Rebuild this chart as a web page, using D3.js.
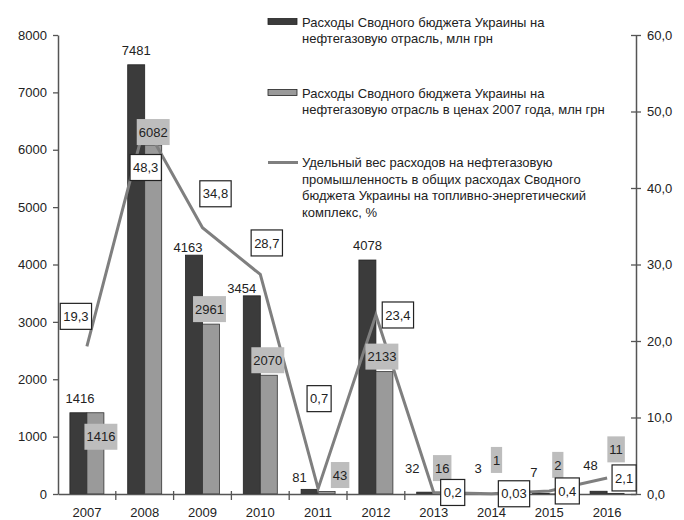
<!DOCTYPE html>
<html lang="ru">
<head>
  <meta charset="UTF-8">
  <script src="https://cdn.jsdelivr.net/npm/d3@7"></script>
  <title>Расходы на нефтегазовую отрасль</title>
  <style>
    body { margin: 0; background: #fff; }
    * { font-family: "Liberation Sans", Arial, sans-serif; }
    svg { display: block; }
  </style>
</head>
<body>
<div id="chart"></div>
<script>
  // Data
  var years = ['2007', '2008', '2009', '2010', '2011', '2012', '2013', '2014', '2015', '2016'];
  var spending = [1416, 7481, 4163, 3454, 81, 4078, 32, 3, 7, 48];       // млн грн
  var spending2007 = [1416, 6082, 2961, 2070, 43, 2133, 16, 1, 2, 11];   // в ценах 2007 года
  var share = [19.3, 48.3, 34.8, 28.7, 0.7, 23.4, 0.2, 0.03, 0.4, 2.1];  // %
  var leftTicks = [0, 1000, 2000, 3000, 4000, 5000, 6000, 7000, 8000];
  var rightTicks = [0, 10, 20, 30, 40, 50, 60];
  var legendLabels = [
    ['Расходы Сводного бюджета Украины на', 'нефтегазовую отрасль, млн грн'],
    ['Расходы Сводного бюджета Украины на', 'нефтегазовую отрасль в ценах 2007 года, млн грн'],
    ['Удельный вес расходов на нефтегазовую', 'промышленность в общих расходах Сводного',
     'бюджета Украины на топливно-энергетический', 'комплекс, %']
  ];

  // label nudges (px), the labels in the original are placed by hand
  var darkDx = [1.5, 0, -6, -10, -10, 0, -13, -5, -7, -8];
  var darkDy = [-10, -10, -3, -3, -7, -10, -19, -21, -17, -21];
  var greyDx = [5.5, 0, -1.5, -1, 13.5, -2.5, 0, -3.5, 0, 0.5];
  var greyDy = [24, -13, -15, -15, -16.5, -15, -25, -34, -29, -44];
  var pctDx = [-11, 1, 13, 6.5, 1, 22, 19, 22.5, 18, 17];
  var pctDy = [-30, 43, -34, -31.5, -90, 0, 0, 0, 0, 0];

  var W = 684, H = 520;
  var margin = {top: 35, right: 48, bottom: 26, left: 58};
  var width = W - margin.left - margin.right;
  var height = H - margin.top - margin.bottom;

  var svg = d3.select('#chart').append('svg')
      .attr('width', W)
      .attr('height', H);

  var g = svg.append('g')
      .attr('transform', 'translate(' + margin.left + ',' + margin.top + ')');

  var x = d3.scaleBand().domain(years).range([0, width]).padding(0);
  var xSub = d3.scaleBand().domain(['a', 'b']).range([0, x.bandwidth()])
      .paddingInner(0).paddingOuter(0.7);
  var yL = d3.scaleLinear().domain([0, 8000]).range([height, 0]);
  var yR = d3.scaleLinear().domain([0, 60]).range([height, 0]);

  var axisColor = '#555';
  var fmt = function(v) { return String(v).replace('.', ','); };

  // Bars
  var rows = years.map(function(y, i) {
    return {year: y, a: spending[i], b: spending2007[i], p: share[i], i: i};
  });

  g.selectAll('.bar-a')
    .data(rows)
    .enter().append('rect')
      .attr('class', 'bar-a')
      .attr('x', function(d) { return x(d.year) + xSub('a'); })
      .attr('y', function(d) { return yL(d.a); })
      .attr('width', xSub.bandwidth())
      .attr('height', function(d) { return height - yL(d.a); })
      .attr('fill', '#3b3b3b')
      .attr('stroke', '#222')
      .attr('stroke-width', 0.8);

  g.selectAll('.bar-b')
    .data(rows)
    .enter().append('rect')
      .attr('class', 'bar-b')
      .attr('x', function(d) { return x(d.year) + xSub('b'); })
      .attr('y', function(d) { return yL(d.b); })
      .attr('width', xSub.bandwidth())
      .attr('height', function(d) { return height - yL(d.b); })
      .attr('fill', '#9a9a9a')
      .attr('stroke', '#333')
      .attr('stroke-width', 0.8);

  // Axes
  var gx = g.append('g')
      .attr('transform', 'translate(0,' + height + ')')
      .call(d3.axisBottom(x).tickSize(0).tickPadding(14));
  gx.select('.domain').attr('stroke', axisColor).attr('stroke-width', 1.5);
  gx.selectAll('text').attr('font-size', 13).attr('fill', '#222');
  gx.selectAll('.sep')
    .data(years.slice(1))
    .enter().append('line')
      .attr('class', 'sep')
      .attr('x1', function(d) { return x(d); })
      .attr('x2', function(d) { return x(d); })
      .attr('y1', -3)
      .attr('y2', 6)
      .attr('stroke', axisColor)
      .attr('stroke-width', 1.3);

  var gl = g.append('g')
      .call(d3.axisLeft(yL).tickValues(leftTicks).tickSize(5).tickPadding(6)
        .tickSizeOuter(0).tickFormat(d3.format('d')));
  gl.select('.domain').attr('stroke', axisColor).attr('stroke-width', 1.5);
  gl.selectAll('.tick line').attr('stroke', axisColor).attr('stroke-width', 1.3);
  gl.selectAll('text').attr('font-size', 13).attr('fill', '#222');

  var gr = g.append('g')
      .attr('transform', 'translate(' + width + ',0)')
      .call(d3.axisRight(yR).tickValues(rightTicks).tickSize(5).tickPadding(6)
        .tickSizeOuter(0).tickFormat(function(d) { return d3.format('.1f')(d).replace('.', ','); }));
  gr.select('.domain').attr('stroke', axisColor).attr('stroke-width', 1.5);
  gr.selectAll('.tick line').attr('x1', -5).attr('stroke', axisColor).attr('stroke-width', 1.3);
  gr.selectAll('text').attr('font-size', 13).attr('fill', '#222');

  // Share line
  var line = d3.line()
      .x(function(d) { return x(d.year) + x.bandwidth() / 2; })
      .y(function(d) { return yR(d.p); });

  g.append('path')
    .datum(rows)
    .attr('d', line)
    .attr('fill', 'none')
    .attr('stroke', '#7f7f7f')
    .attr('stroke-width', 3)
    .attr('stroke-linejoin', 'miter');

  // Labels over dark bars
  g.selectAll('.lab-a')
    .data(rows)
    .enter().append('text')
      .attr('class', 'lab-a')
      .attr('x', function(d) { return x(d.year) + xSub('a') + xSub.bandwidth() / 2 + darkDx[d.i]; })
      .attr('y', function(d) { return yL(d.a) + darkDy[d.i]; })
      .attr('text-anchor', 'middle')
      .attr('font-size', 13)
      .attr('fill', '#222')
      .text(function(d) { return d.a; });

  // Boxed label helper
  function boxLabel(sel, cx, cy, txt, fill, stroke, pad, h) {
    var grp = sel.append('g').attr('transform', 'translate(' + cx + ',' + cy + ')');
    var t = grp.append('text')
      .attr('text-anchor', 'middle')
      .attr('dy', '0.36em')
      .attr('font-size', 13)
      .attr('fill', '#222')
      .text(txt);
    var w = t.node().getComputedTextLength() + pad * 2;
    grp.insert('rect', 'text')
      .attr('x', -w / 2)
      .attr('y', -h / 2)
      .attr('width', w)
      .attr('height', h)
      .attr('fill', fill)
      .attr('stroke', stroke)
      .attr('stroke-width', stroke === 'none' ? 0 : 1.2);
  }

  var greyLayer = g.append('g');
  rows.forEach(function(d) {
    boxLabel(greyLayer,
      x(d.year) + xSub('b') + xSub.bandwidth() / 2 + greyDx[d.i],
      yL(d.b) + greyDy[d.i],
      String(d.b), '#bdbdbd', 'none', 2, 26);
  });

  var pctLayer = g.append('g');
  rows.forEach(function(d) {
    boxLabel(pctLayer,
      x(d.year) + x.bandwidth() / 2 + pctDx[d.i],
      yR(d.p) + pctDy[d.i],
      fmt(d.p), '#fff', '#222', 3, 26);
  });

  // Legend
  var legend = svg.append('g').attr('font-size', 13).attr('fill', '#222');
  var legendY = [26.5, 97.5, 167];
  legendLabels.forEach(function(lines, k) {
    var lg = legend.append('g').attr('transform', 'translate(268,' + legendY[k] + ')');
    if (k < 2) {
      lg.append('rect')
        .attr('x', 0).attr('y', -8)
        .attr('width', 29).attr('height', 6)
        .attr('fill', k === 0 ? '#3b3b3b' : '#9a9a9a')
        .attr('stroke', '#222').attr('stroke-width', 0.8);
    } else {
      lg.append('line')
        .attr('x1', 0).attr('x2', 30)
        .attr('y1', -4.5).attr('y2', -4.5)
        .attr('stroke', '#7f7f7f').attr('stroke-width', 3);
    }
    lg.append('text')
      .attr('x', 34)
      .selectAll('tspan')
      .data(lines)
      .enter().append('tspan')
        .attr('x', 34)
        .attr('y', function(d, i) { return i * 16.5; })
        .text(function(d) { return d; });
  });
</script>
</body>
</html>
